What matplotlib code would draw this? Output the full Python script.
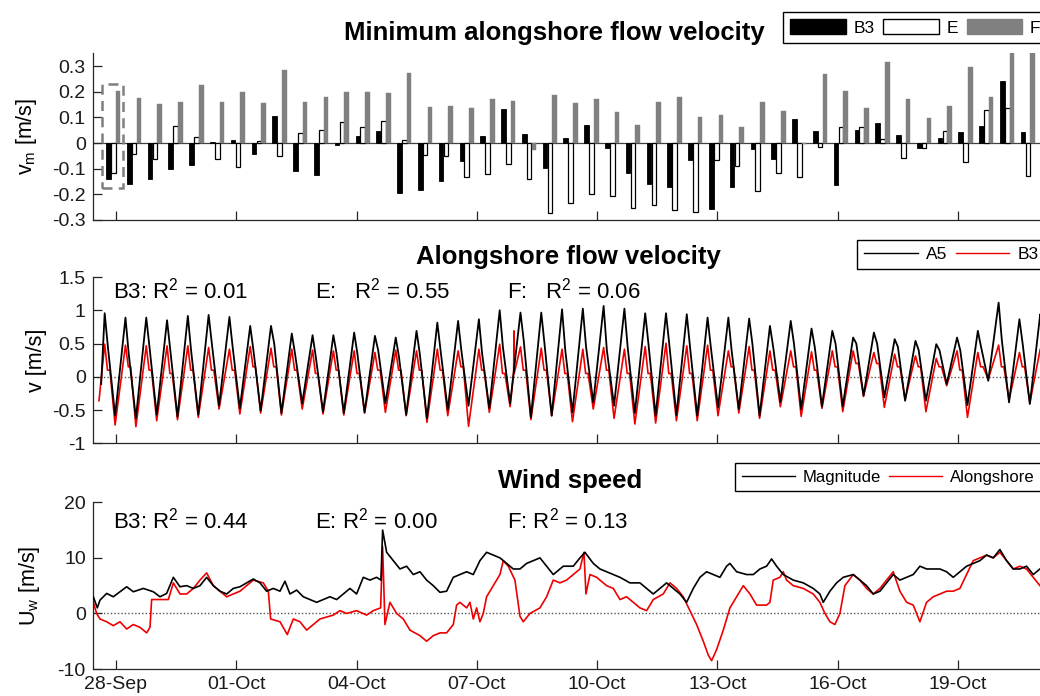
import numpy as np
import matplotlib
matplotlib.use('Agg')
import matplotlib.pyplot as plt
import matplotlib.dates as mdates
from matplotlib.patches import Patch, Rectangle
from matplotlib.lines import Line2D
from matplotlib.ticker import FuncFormatter
import datetime as dt

plt.rcParams['font.family'] = ['Liberation Sans', 'DejaVu Sans']
plt.rcParams['mathtext.fontset'] = 'custom'
plt.rcParams['mathtext.rm'] = 'Liberation Sans'
plt.rcParams['mathtext.it'] = 'Liberation Sans:italic'
plt.rcParams['mathtext.bf'] = 'Liberation Sans:bold'
plt.rcParams['axes.unicode_minus'] = False

# ---------------- data ----------------
base_date = dt.datetime(2016, 9, 28)
tick_days = [0, 3, 6, 9, 12, 15, 18, 21]          # days after 28-Sep
xlim_days = (-0.581, 23.17)

# tidal cycles
first_peak_day = -0.282
tidal_period_days = 0.5185
bar_center_offset = 0.215

# minimum alongshore flow velocity per tidal cycle [m/s]
vm_B3 = [-0.142, -0.161, -0.14, -0.10, -0.087, 0.003, 0.01, -0.043, 0.107, -0.11, -0.125,
         -0.008, 0.028, 0.045, -0.196, -0.183, -0.147, -0.071, 0.026, 0.134, 0.036, -0.097, 0.018,
         0.071, -0.019, -0.116, -0.161, -0.17, -0.065, -0.258, -0.17, -0.023, -0.062, 0.094,
         0.045, -0.165, 0.05, 0.078, 0.03, -0.021, 0.018, 0.041, 0.067, 0.24, 0.041]
vm_E = [-0.116, -0.041, -0.061, 0.067, 0.023, -0.062, -0.094, 0.009, -0.052, 0.039, 0.05,
        0.08, 0.062, 0.084, 0.013, -0.045, -0.049, -0.132, -0.119, -0.08, -0.142, -0.274, -0.233,
        -0.2, -0.207, -0.252, -0.242, -0.261, -0.269, -0.068, -0.088, -0.187, -0.116, -0.132,
        -0.016, 0.061, 0.062, 0.016, -0.058, -0.021, 0.045, -0.074, 0.129, 0.136, -0.129]
vm_F = [0.203, 0.174, 0.152, 0.161, 0.227, 0.161, 0.2, 0.155, 0.284, 0.158, 0.181,
        0.2, 0.2, 0.196, 0.271, 0.142, 0.146, 0.136, 0.173, 0.163, -0.026, 0.187, 0.155,
        0.171, 0.119, 0.07, 0.158, 0.181, 0.1, 0.109, 0.061, 0.16, 0.125, -0.005,
        0.267, 0.204, 0.138, 0.315, 0.171, 0.098, 0.146, 0.297, 0.178, 0.36, 0.36]

# alongshore flow velocity: per-cycle peak / shoulder / trough [m/s]
a5_peak = [0.955, 0.89, 0.89, 0.85, 0.915, 0.93, 0.9, 0.765, 0.765, 0.65, 0.625, 0.625, 0.665,
           0.615, 0.59, 0.69, 0.815, 0.84, 0.865, 1.0, 0.965, 0.965, 1.015,
           1.025, 1.065, 1.025, 0.955, 0.955, 0.94, 0.89, 0.89, 0.875, 0.765, 0.84, 0.725,
           0.69, 0.59, 0.665, 0.565, 0.54, 0.49, 0.59, 0.69, 1.115, 0.865, 0.94]
a5_shoulder = [0.45, 0.35, 0.45, 0.4, 0.4, 0.5, 0.45, 0.4, 0.5, 0.35, 0.3, 0.35, 0.35, 0.4,
               0.3, 0.35, 0.4, 0.4, 0.35, 0.45, 0.55, 0.5, 0.4,
               0.45, 0.4, 0.45, 0.5, 0.5, 0.45, 0.45, 0.4, 0.5, 0.45, 0.5, 0.45, 0.5, 0.5,
               0.5, 0.45, 0.4, 0.4, 0.4, 0.45, 0.55, 0.5, 0.5]
a5_trough = [-0.585, -0.625, -0.57, -0.6, -0.57, -0.435, -0.475, -0.51, -0.545, -0.4, -0.525,
             -0.545, -0.535, -0.4, -0.57, -0.625, -0.495, -0.435, -0.475, -0.4, -0.61, -0.585,
             -0.535, -0.385, -0.435, -0.545, -0.585, -0.575, -0.585, -0.46, -0.485, -0.585,
             -0.375, -0.485, -0.445, -0.445, -0.285, -0.31, -0.36, -0.36, -0.11, -0.425,
             -0.06, -0.385, -0.41]
a5_start = (-0.37, -0.11)

b3_peak = [0.49, 0.475, 0.465, 0.465, 0.465, 0.44, 0.415, 0.455, 0.43, 0.415, 0.4, 0.39, 0.39,
           0.365, 0.4, 0.39, 0.415, 0.39, 0.415, 0.49, 0.45, 0.43, 0.415,
           0.415, 0.44, 0.415, 0.455, 0.505, 0.465, 0.475, 0.39, 0.455, 0.39, 0.39, 0.375,
           0.39, 0.39, 0.365, 0.34, 0.315, 0.275, 0.39, 0.365, 0.475, 0.365, 0.415]
b3_shoulder = [0.1, 0.15, 0.1, 0.05, 0.1, 0.1, 0.1, 0.15, 0.15, 0.1, 0.05, 0.1, 0.05, 0.1, 0.1,
               0.1, 0.1, 0.15, 0.1, 0.05, 0.1, 0.1, 0.05,
               0.05, 0.1, 0.05, 0.05, 0.05, 0.05, 0.1, 0.15, 0.1, 0.1, 0.15, 0.1, 0.15, 0.2,
               0.2, 0.15, 0.15, 0.15, 0.1, 0.15, 0.15, 0.15, 0.15]
b3_trough = [-0.725, -0.75, -0.66, -0.645, -0.61, -0.485, -0.56, -0.545, -0.575, -0.485,
             -0.56, -0.575, -0.545, -0.535, -0.585, -0.685, -0.585, -0.745, -0.535, -0.45,
             -0.645, -0.585, -0.675, -0.485, -0.625, -0.71, -0.695, -0.66, -0.66, -0.585,
             -0.545, -0.625, -0.45, -0.595, -0.475, -0.525, -0.295, -0.46, -0.345, -0.525,
             -0.135, -0.61, -0.035, -0.345, -0.395]
b3_start = (-0.424, -0.36)
b3_spike_days = [9.918, 9.925, 9.932]
b3_spike_vals = [0.05, 0.69, 0.05]

# wind speed [m/s]
wind_mag_days = [-0.566, -0.466, -0.399, -0.233, -0.067, 0.099, 0.266, 0.432, 0.682, 0.931,
                 1.097, 1.263, 1.43, 1.596, 1.762, 1.928, 2.095, 2.261, 2.427, 2.593, 2.76,
                 2.926, 3.092, 3.258, 3.425, 3.591, 3.757, 3.923, 4.09, 4.214, 4.339, 4.505,
                 4.671, 4.838, 5.004, 5.17, 5.336, 5.503, 5.669, 5.835, 6.001, 6.168, 6.334,
                 6.5, 6.608, 6.65, 6.75, 6.916, 7.082, 7.248, 7.415, 7.581, 7.747, 7.913,
                 8.08, 8.246, 8.412, 8.578, 8.745, 8.911, 9.077, 9.243, 9.41, 9.576, 9.742,
                 9.908, 10.075, 10.241, 10.574, 10.74, 10.906, 11.156, 11.405, 11.571, 11.696,
                 11.904, 12.07, 12.236, 12.403, 12.569, 12.818, 13.067, 13.234, 13.4, 13.566,
                 13.733, 13.899, 14.065, 14.231, 14.398, 14.564, 14.73, 14.896, 15.063,
                 15.229, 15.312, 15.478, 15.728, 15.894, 16.06, 16.226, 16.351, 16.476,
                 16.642, 16.891, 17.141, 17.39, 17.556, 17.639, 17.806, 17.972, 18.138,
                 18.387, 18.554, 18.72, 18.886, 19.053, 19.219, 19.385, 19.551, 19.718,
                 19.884, 20.05, 20.216, 20.383, 20.549, 20.715, 20.882, 21.048, 21.214,
                 21.38, 21.547, 21.713, 21.879, 22.045, 22.212, 22.378, 22.544, 22.71,
                 22.877, 23.043]
wind_mag = [3.0, 1.0, 2.4, 3.6, 3.0, 3.9, 4.8, 3.9, 4.5, 3.9,
            3.0, 3.6, 6.5, 4.8, 5.0, 4.5, 5.0, 6.5, 5.0, 4.0, 3.5,
            4.5, 4.8, 5.5, 6.2, 5.5, 4.0, 4.5, 4.0, 5.8, 3.5, 4.2,
            3.0, 2.5, 2.0, 2.5, 3.0, 2.5, 3.5, 4.5, 3.5, 6.5, 6.0,
            6.5, 6.0, 15.0, 11.0, 9.5, 8.0, 8.5, 7.0, 7.5, 6.0, 5.0,
            3.8, 4.0, 6.5, 7.0, 7.5, 7.0, 9.5, 11.0, 10.5, 10.0, 9.0,
            8.0, 8.0, 9.0, 10.0, 8.5, 7.0, 8.5, 8.5, 10.0, 11.0,
            9.0, 8.0, 7.5, 7.0, 6.5, 5.5, 5.5, 4.5, 3.5, 4.5,
            5.5, 4.5, 3.5, 2.0, 4.5, 6.5, 7.5, 7.0, 6.5,
            8.5, 9.0, 7.5, 7.0, 7.0, 8.0, 8.5, 9.8, 8.5,
            7.0, 6.0, 5.5, 4.5, 3.5, 2.0, 4.0, 5.5, 6.5,
            7.0, 6.0, 5.0, 3.5, 4.0, 5.5, 7.0, 6.0, 6.5,
            7.0, 8.5, 8.0, 8.0, 8.0, 7.5, 6.5, 7.5, 8.5,
            9.0, 9.5, 10.5, 10.0, 11.5, 9.5, 8.0, 8.0, 8.5,
            7.0, 8.0]
wind_along_days = [-0.566, -0.483, -0.4, -0.233, -0.067, 0.099, 0.266, 0.432, 0.598, 0.765,
                   0.848, 0.889, 1.097, 1.305, 1.43, 1.596, 1.762, 1.928, 2.095, 2.261, 2.427,
                   2.593, 2.76, 2.926, 3.092, 3.258, 3.425, 3.674, 3.799, 3.857, 4.09, 4.272,
                   4.422, 4.588, 4.754, 4.921, 5.087, 5.419, 5.586, 5.752, 6.001, 6.251,
                   6.417, 6.6, 6.65, 6.708, 6.832, 6.999, 7.165, 7.331, 7.581, 7.747, 7.913,
                   8.08, 8.246, 8.412, 8.495, 8.578, 8.745, 8.828, 8.911, 8.994, 9.077, 9.16,
                   9.243, 9.41, 9.576, 9.659, 9.784, 9.95, 10.075, 10.158, 10.324, 10.574,
                   10.74, 10.906, 11.072, 11.239, 11.405, 11.571, 11.671, 11.721, 11.821,
                   11.987, 12.236, 12.403, 12.569, 12.735, 12.901, 13.067, 13.234, 13.4,
                   13.649, 13.816, 13.982, 14.148, 14.314, 14.481, 14.647, 14.772, 14.855,
                   14.98, 15.146, 15.312, 15.478, 15.645, 15.811, 15.977, 16.226, 16.309,
                   16.392, 16.559, 16.642, 16.725, 16.891, 17.141, 17.39, 17.556, 17.681,
                   17.806, 17.93, 18.055, 18.18, 18.387, 18.554, 18.72, 18.886, 19.053,
                   19.219, 19.385, 19.551, 19.718, 19.884, 20.05, 20.216, 20.383, 20.549,
                   20.715, 20.882, 21.048, 21.214, 21.38, 21.547, 21.713, 21.879, 22.045,
                   22.212, 22.378, 22.544, 22.71, 22.877, 23.043]
wind_along = [2.0, 0.0, -1.0, -1.5, -2.2, -1.5, -2.8, -2.0, -2.5, -3.5,
              -2.5, 2.5, 2.5, 2.5, 5.5, 3.5, 3.5, 4.5, 6.0, 7.3, 5.0,
              4.0, 3.0, 3.5, 4.0, 5.0, 6.0, 5.5, 4.0, -1.0, -1.5, -3.8,
              -1.0, -1.5, -3.0, -2.0, -1.0, -0.3, 0.5, 0.0, 0.5, -0.3,
              0.5, 1.0, 12.0, -2.0, 2.0, 0.0, -1.0, -3.0, -4.0, -5.0, -4.0,
              -3.5, -3.5, -2.0, 1.5, 2.0, 1.0, 2.0, -1.0, 1.0, -1.5, 0.0,
              3.0, 5.0, 7.0, 9.5, 8.5, 6.0, -0.5, -1.5, 0.0, 1.0,
              3.0, 6.0, 5.5, 6.0, 7.0, 8.0, 11.0, 3.5, 7.0,
              6.5, 5.0, 4.5, 2.5, 3.0, 2.0, 1.0, 0.5, 2.5,
              3.5, 5.5, 4.5, 3.0, 0.5, -2.0, -5.0, -7.5, -8.5,
              -6.5, -3.0, 1.0, 3.0, 5.0, 3.5, 1.5, 1.5, 2.0,
              6.0, 6.5, 7.5, 6.0, 5.0, 4.5, 3.5, 2.0, 0.0,
              -1.5, -2.0, 0.0, 5.0, 7.0, 6.0, 4.5, 3.5, 4.5,
              6.0, 7.5, 4.0, 2.0, 1.5, -1.5, 2.0, 3.0, 3.5,
              4.0, 4.0, 4.5, 7.0, 9.5, 10.0, 10.5, 10.0, 11.0,
              9.5, 8.0, 8.5, 8.0, 6.5, 5.0]

r2_flow = ['B3: $\\mathrm{R}^{2}$ = 0.01', 'E:   $\\mathrm{R}^{2}$ = 0.55', 'F:   $\\mathrm{R}^{2}$ = 0.06']
r2_wind = ['B3: $\\mathrm{R}^{2}$ = 0.44', 'E: $\\mathrm{R}^{2}$ = 0.00', 'F: $\\mathrm{R}^{2}$ = 0.13']

# ---------------- helpers ----------------
t0 = mdates.date2num(base_date)
def D(days):
    return t0 + np.asarray(days, dtype=float)

W, H = 1040, 696
fig = plt.figure(figsize=(W / 100, H / 100), dpi=100)

ax_left = 92.7 / W
ax_width = (1045 - 92.7) / W
def pos(top_px, bot_px):
    return [ax_left, 1 - bot_px / H, ax_width, (bot_px - top_px) / H]

ax1 = fig.add_axes(pos(53.2, 220.0))
ax2 = fig.add_axes(pos(277.0, 443.3))
ax3 = fig.add_axes(pos(502.3, 669.0))

spine_col = '#262626'
for ax in (ax1, ax2, ax3):
    for s in ('top', 'right'):
        ax.spines[s].set_visible(False)
    for s in ('left', 'bottom'):
        ax.spines[s].set_color(spine_col)
        ax.spines[s].set_linewidth(0.9)
    ax.set_xlim(D(xlim_days[0]), D(xlim_days[1]))
    ax.set_xticks(D(tick_days))
    ax.xaxis.set_major_formatter(mdates.DateFormatter('%d-%b'))
    ax.tick_params(direction='in', length=6.5, width=0.9, colors=spine_col,
                   labelsize=14, labelcolor='#1a1a1a', pad=5)
    ax.yaxis.set_major_formatter(FuncFormatter(lambda v, p: '%g' % round(v, 3)))
    ax.patch.set_alpha(0)

# ---------------- panel 1: bars ----------------
n = len(vm_B3)
centers = first_peak_day + bar_center_offset + tidal_period_days * np.arange(n)
bw = 0.115
ax1.axhline(0, color='#404040', lw=0.9, zorder=1)
ax1.bar(D(centers - 0.122), vm_B3, width=bw, color='black', edgecolor='black', lw=0.6, zorder=2)
ax1.bar(D(centers), vm_E, width=bw, color='white', edgecolor='black', lw=0.9, zorder=2)
ax1.bar(D(centers + 0.118), vm_F, width=bw, color='#808080', edgecolor='#808080', lw=0.3, zorder=2)
ax1.set_ylim(-0.3, 0.35)
ax1.set_yticks([-0.3, -0.2, -0.1, 0, 0.1, 0.2, 0.3])
ax1.tick_params(labelbottom=False)
ax1.add_patch(Rectangle((D(-0.357), -0.177), 0.539, 0.407, fill=False,
                        ec='#7f7f7f', lw=1.8, ls=(0, (4, 2.5)), zorder=3))
ax1.set_ylabel('v$_\\mathrm{m}$ [m/s]', fontsize=15.5)
ax1.yaxis.set_label_coords(-0.056, 0.5)

# ---------------- panel 2: flow velocity ----------------
pk = first_peak_day + tidal_period_days * np.arange(len(a5_peak))
a5_t, a5_v = [a5_start[0]], [a5_start[1]]
for i in range(len(a5_peak)):
    a5_t += [pk[i], pk[i] + 0.08]
    a5_v += [a5_peak[i], a5_shoulder[i]]
    if i < len(a5_trough):
        a5_t.append(pk[i] + 0.26)
        a5_v.append(a5_trough[i])
b3_t, b3_v = [b3_start[0]], [b3_start[1]]
for i in range(len(b3_peak)):
    b3_t += [pk[i], pk[i] + 0.07, pk[i] + 0.13]
    b3_v += [b3_peak[i], b3_shoulder[i], b3_shoulder[i]]
    if i < len(b3_trough):
        b3_t.append(pk[i] + 0.26)
        b3_v.append(b3_trough[i])
b3_t += b3_spike_days
b3_v += b3_spike_vals
order = np.argsort(b3_t)
b3_t = np.array(b3_t)[order]
b3_v = np.array(b3_v)[order]

red = '#ee0000'
ax2.axhline(0, color='#555555', lw=1.0, ls=(0, (1, 1.5)), zorder=1)
ax2.plot(D(b3_t), b3_v, color=red, lw=1.2, zorder=2)
ax2.plot(D(a5_t), a5_v, color='black', lw=1.3, zorder=3)
ax2.set_ylim(-1, 1.5)
ax2.set_yticks([-1, -0.5, 0, 0.5, 1, 1.5])
ax2.tick_params(labelbottom=False)
ax2.set_ylabel('v [m/s]', fontsize=15.5)
ax2.yaxis.set_label_coords(-0.048, 0.5)

# ---------------- panel 3: wind ----------------
ax3.axhline(0, color='#555555', lw=1.0, ls=(0, (1, 1.5)), zorder=1)
ax3.plot(D(wind_along_days), wind_along, color=red, lw=1.2, zorder=2)
ax3.plot(D(wind_mag_days), wind_mag, color='black', lw=1.2, zorder=3)
ax3.set_ylim(-10, 20)
ax3.set_yticks([-10, 0, 10, 20])
ax3.set_ylabel('U$_\\mathrm{w}$ [m/s]', fontsize=15.5)
ax3.yaxis.set_label_coords(-0.053, 0.5)

# ---------------- titles and annotations ----------------
fig.text(554 / W, 1 - 40 / H, 'Minimum alongshore flow velocity', ha='center', va='baseline',
         fontsize=18.5, fontweight='bold')
fig.text(568.5 / W, 1 - 264 / H, 'Alongshore flow velocity', ha='center', va='baseline',
         fontsize=18.5, fontweight='bold')
fig.text(570.5 / W, 1 - 488 / H, 'Wind speed', ha='center', va='baseline',
         fontsize=18.5, fontweight='bold')

for txt, x in zip(r2_flow, (113, 315, 507)):
    fig.text(x / W, 1 - 299 / H, txt, ha='left', va='baseline', fontsize=16)
for txt, x in zip(r2_wind, (113, 315, 507)):
    fig.text(x / W, 1 - 529 / H, txt, ha='left', va='baseline', fontsize=16)

# ---------------- legends ----------------
leg_kw = dict(loc='upper left', fancybox=False, edgecolor='black', framealpha=1,
              borderaxespad=0, handletextpad=0.45, columnspacing=0.5, borderpad=0.4)
lg1 = fig.legend([Patch(fc='black', ec='black'), Patch(fc='white', ec='black'),
                  Patch(fc='#808080', ec='#808080')], ['B3', 'E', 'F'], ncol=3,
                 bbox_to_anchor=(783 / W, 1 - 12 / H), handlelength=3.2, handleheight=1.0,
                 fontsize=12.5, **leg_kw)
lg2 = fig.legend([Line2D([], [], color='black', lw=1), Line2D([], [], color=red, lw=1)],
                 ['A5', 'B3'], ncol=2, bbox_to_anchor=(857 / W, 1 - 240 / H),
                 handlelength=3.1, fontsize=12.5, **leg_kw)
lg3 = fig.legend([Line2D([], [], color='black', lw=1), Line2D([], [], color=red, lw=1)],
                 ['Magnitude', 'Alongshore'], ncol=2, bbox_to_anchor=(735 / W, 1 - 463 / H),
                 handlelength=3.2, fontsize=12.0, **leg_kw)
for lg in (lg1, lg2, lg3):
    lg.get_frame().set_linewidth(1.0)

fig.savefig('out.png', dpi=100)
